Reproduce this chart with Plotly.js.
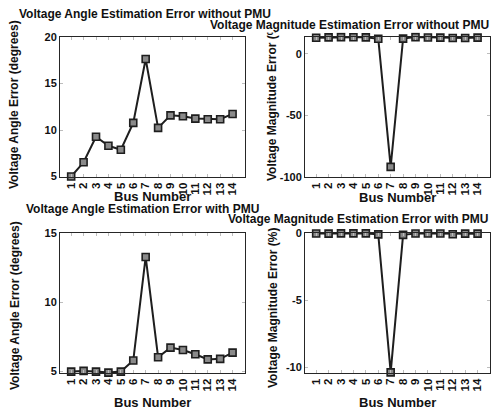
<!DOCTYPE html>
<html>
<head>
<meta charset="utf-8">
<script src="https://cdn.plot.ly/plotly-3.0.1.min.js"></script>
<style>html,body{margin:0;padding:0;background:#fff;}#chart{width:492px;height:414px;}</style>
</head>
<body>
<div id="chart"></div>
<script>
const buses = [1,2,3,4,5,6,7,8,9,10,11,12,13,14];
const busLabels = ['1','2','3','4','5','6','7','8','9','10','11','12','13','14'];
const angleNoPMU = [5.0, 6.53, 9.27, 8.31, 7.88, 10.77, 17.63, 10.23, 11.58, 11.48, 11.23, 11.16, 11.16, 11.73];
const magNoPMU = [13.0, 13.3, 13.5, 13.4, 13.3, 12.2, -91.8, 12.3, 13.5, 13.2, 13.1, 12.8, 12.8, 13.1];
const angleWithPMU = [5.0, 5.05, 5.0, 4.93, 5.0, 5.8, 13.27, 6.04, 6.73, 6.56, 6.25, 5.88, 5.92, 6.37];
const magWithPMU = [-0.02, -0.03, -0.01, -0.01, -0.01, -0.08, -10.35, -0.12, -0.02, -0.02, -0.02, -0.07, -0.03, -0.03];

const angleTicksTop = [5, 10, 15, 20];
const magTicksTop = [-100, -50, 0];
const magTickTextTop = ['-100', '-50', '0'];
const angleTicksBottom = [5, 10, 15];
const magTicksBottom = [-10, -5, 0];
const magTickTextBottom = ['-10', '-5', '0'];

const titles = ['Voltage Angle Estimation Error without PMU','Voltage Magnitude Estimation Error without PMU',
                'Voltage Angle Estimation Error with PMU','Voltage Magnitude Estimation Error with PMU'];
const yTitles = ['Voltage Angle Error (degrees)','Voltage Magnitude Error (%)'];
const xTitle = 'Bus Number';

const W = 492, H = 414;
const px = v => v / W;
const py = v => 1 - v / H;
const FONT = 'Arial, "Liberation Sans", sans-serif';
const lineColor = '#1e1e1e';

function trace(y, xa, ya) {
  return {x: buses, y: y, xaxis: xa, yaxis: ya, type: 'scatter', mode: 'lines+markers',
    cliponaxis: false,
    line: {color: lineColor, width: 2},
    marker: {symbol: 'square', size: 7, color: '#8a8a8a', line: {width: 1.6, color: lineColor}}};
}
const data = [trace(angleNoPMU,'x','y'), trace(magNoPMU,'x2','y2'), trace(angleWithPMU,'x3','y3'), trace(magWithPMU,'x4','y4')];

function xax(domain, anchor) {
  return {domain: domain, anchor: anchor, range: [0.1, 15], tickvals: buses, ticktext: busLabels,
    tickangle: -90, ticks: 'inside', ticklen: 3, tickcolor: '#bdbdbd', mirror: 'ticks',
    showline: true, linecolor: '#262626', linewidth: 1, showgrid: false, zeroline: false,
    tickfont: {family: FONT, size: 11.5, color: '#111', weight: 'bold'}, automargin: false};
}
function yax(domain, anchor, range, tickvals, ticktext) {
  const a = {domain: domain, anchor: anchor, range: range, tickvals: tickvals,
    ticks: 'inside', ticklen: 3, tickcolor: '#bdbdbd', mirror: 'ticks',
    showline: true, linecolor: '#262626', linewidth: 1, showgrid: false, zeroline: false,
    tickfont: {family: FONT, size: 11, color: '#111', weight: 'bold'}, automargin: false};
  if (ticktext) a.ticktext = ticktext;
  return a;
}
const xL = [px(60), px(245)], xR = [px(305), px(490)];
const yT = [py(177), py(37)], yB = [py(373), py(233)];

function ann(text, x, y, size, opts) {
  return Object.assign({text: '<b>' + text + '</b>', x: x, y: y, xref: 'paper', yref: 'paper',
    showarrow: false, xanchor: 'center', yanchor: 'middle',
    font: {family: FONT, size: size, color: '#111'}}, opts || {});
}
const annotations = [
  ann(yTitles[0], px(14), py(105), 12, {textangle: -90}),
  ann(yTitles[1], px(272), py(101), 12, {textangle: -90}),
  ann(yTitles[0], px(15), py(306), 12, {textangle: -90}),
  ann(yTitles[1], px(273), py(308), 12, {textangle: -90}),
  ann(xTitle, px(152), py(196), 13),
  ann(xTitle, px(397), py(197), 13),
  ann(xTitle, px(152), py(402), 13),
  ann(xTitle, px(397), py(402), 13),
  ann(titles[1], px(490), py(25), 12, {xanchor: 'right', bgcolor: '#ffffff', borderpad: 0}),
  ann(titles[0], px(145), py(14), 12),
  ann(titles[2], px(142), py(209), 12),
  ann(titles[3], px(490), py(219), 12, {xanchor: 'right'})
];

const layout = {
  width: W, height: H, margin: {l: 0, r: 0, t: 0, b: 0},
  paper_bgcolor: '#fff', plot_bgcolor: '#fff', showlegend: false,
  font: {family: FONT, color: '#111'},
  xaxis: xax(xL, 'y'), yaxis: yax(yT, 'x', [4.95, 20], angleTicksTop),
  xaxis2: xax(xR, 'y2'), yaxis2: yax(yT, 'x2', [-100, 13.6], magTicksTop, magTickTextTop),
  xaxis3: xax(xL, 'y3'), yaxis3: yax(yB, 'x3', [4.9, 15], angleTicksBottom),
  xaxis4: xax(xR, 'y4'), yaxis4: yax(yB, 'x4', [-10.4, 0.02], magTicksBottom, magTickTextBottom),
  annotations: annotations
};
Plotly.newPlot('chart', data, layout, {displayModeBar: false, staticPlot: true});
</script>
</body>
</html>
